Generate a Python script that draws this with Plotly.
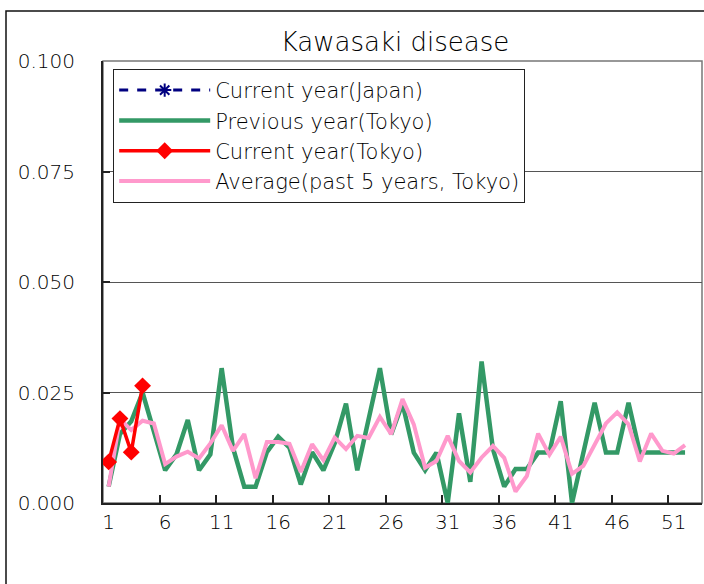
import plotly.graph_objects as go

weeks = list(range(1, 53))

prev_tokyo = [0.0037, 0.0156, 0.0185, 0.0250, 0.0162, 0.0074, 0.0110, 0.0188, 0.0074, 0.0110,
              0.0305, 0.0125, 0.0037, 0.0037, 0.0115, 0.0150, 0.0125, 0.0042, 0.0115, 0.0074,
              0.0135, 0.0225, 0.0074, 0.0190, 0.0305, 0.0155, 0.0225, 0.0114, 0.0074, 0.0114,
              0.0000, 0.0203, 0.0048, 0.0320, 0.0122, 0.0037, 0.0077, 0.0077, 0.0114, 0.0114,
              0.0230, 0.0000, 0.0114, 0.0227, 0.0114, 0.0114, 0.0227, 0.0114, 0.0114, 0.0114,
              0.0114, 0.0114]

avg_tokyo = [0.0037, 0.0190, 0.0165, 0.0186, 0.0180, 0.0088, 0.0105, 0.0116, 0.0101, 0.0135,
             0.0176, 0.0118, 0.0156, 0.0056, 0.0138, 0.0138, 0.0134, 0.0070, 0.0133, 0.0097,
             0.0148, 0.0122, 0.0152, 0.0147, 0.0195, 0.0156, 0.0235, 0.0178, 0.0080, 0.0095,
             0.0152, 0.0095, 0.0069, 0.0103, 0.0129, 0.0102, 0.0026, 0.0061, 0.0157, 0.0109,
             0.0150, 0.0066, 0.0084, 0.0133, 0.0180, 0.0205, 0.0178, 0.0094, 0.0157, 0.0118,
             0.0112, 0.0131]

cur_weeks = [1, 2, 3, 4]
cur_tokyo = [0.0093, 0.0191, 0.0115, 0.0265]

# no national values shown in the chart (only legend entry)
cur_japan = [None, None, None, None]

tick_labels = [1, 6, 11, 16, 21, 26, 31, 36, 41, 46, 51]
tick_marks = [5.5, 10.5, 15.5, 20.5, 25.5, 30.5, 35.5, 40.5, 45.5, 50.5]
y_ticks = [0.0, 0.025, 0.05, 0.075, 0.1]

FONT = "'DejaVu Sans', sans-serif"
TXT = "#000"

fig = go.Figure()
fig.add_trace(go.Scatter(x=weeks, y=prev_tokyo, mode="lines", name="Previous year(Tokyo)",
                         line=dict(color="#339966", width=4.5), legendrank=2))
fig.add_trace(go.Scatter(x=weeks, y=avg_tokyo, mode="lines", name="Average(past 5 years, Tokyo)",
                         line=dict(color="#FF99CC", width=4), legendrank=4))
fig.add_trace(go.Scatter(x=cur_weeks, y=cur_tokyo, mode="lines+markers", name="Current year(Tokyo)",
                         line=dict(color="#FF0000", width=3.5),
                         marker=dict(symbol="diamond", size=13, color="#FF0000"), legendrank=3))
fig.add_trace(go.Scatter(x=cur_weeks, y=cur_japan, mode="lines+markers", name="Current year(Japan)",
                         line=dict(color="#000080", width=3, dash="dash"),
                         marker=dict(symbol="asterisk-open", size=11, color="#000080",
                                     line=dict(color="#000080", width=2)), legendrank=1))
# helper trace for tick marks at category boundaries
fig.add_trace(go.Scatter(x=[None], y=[None], xaxis="x2", showlegend=False, hoverinfo="skip"))

fig.update_layout(
    width=704, height=584,
    margin=dict(l=103, r=2, t=61, b=81),
    paper_bgcolor="white", plot_bgcolor="white",
    font=dict(family=FONT, size=20, color=TXT, weight=300),
    title=dict(text="Kawasaki disease", x=0.561, xanchor="center", y=0.928, yanchor="middle",
               font=dict(family=FONT, size=26, color=TXT, weight=300)),
    showlegend=True,
    legend=dict(x=0.017, y=0.982, xanchor="left", yanchor="top",
                bgcolor="white", bordercolor="#222", borderwidth=1,
                font=dict(family=FONT, size=21, color=TXT, weight=300),
                itemwidth=91, traceorder="normal", tracegroupgap=0),
    xaxis=dict(range=[0.5, 53.5], tickmode="array", tickvals=tick_labels,
               ticktext=[str(t) for t in tick_labels], ticks="", showgrid=False,
               zeroline=False, showline=True, linecolor="#222", linewidth=2,
               tickfont=dict(size=20, weight=300, color=TXT), ticklabelstandoff=0),
    xaxis2=dict(range=[0.5, 53.5], overlaying="x", tickmode="array", tickvals=tick_marks,
                ticks="inside", ticklen=8, tickcolor="#222", tickwidth=1.5,
                showticklabels=False, showgrid=False, zeroline=False, showline=False),
    yaxis=dict(range=[0, 0.1], tickmode="array", tickvals=y_ticks, tickformat=".3f",
               ticks="inside", ticklen=7, tickcolor="#222", tickwidth=1.5,
               showgrid=True, gridcolor="#555", gridwidth=1, zeroline=False,
               showline=True, linecolor="#222", linewidth=2,
               tickfont=dict(size=20, weight=300, color=TXT), ticklabelstandoff=22),
    shapes=[
        dict(type="rect", xref="paper", yref="paper", x0=0, x1=1, y0=0, y1=1,
             line=dict(color="#777", width=1.5), layer="below"),
        dict(type="rect", xref="paper", yref="paper",
             x0=(6 - 103) / 599, x1=(710 - 103) / 599,
             y0=(503 - 590) / 442, y1=(503 - 11) / 442,
             line=dict(color="#111", width=1.5)),
    ],
)

fig.write_html("out.html", config={"displayModeBar": False},
               post_script="document.body.style.margin='0';document.body.style.overflow='hidden';")
